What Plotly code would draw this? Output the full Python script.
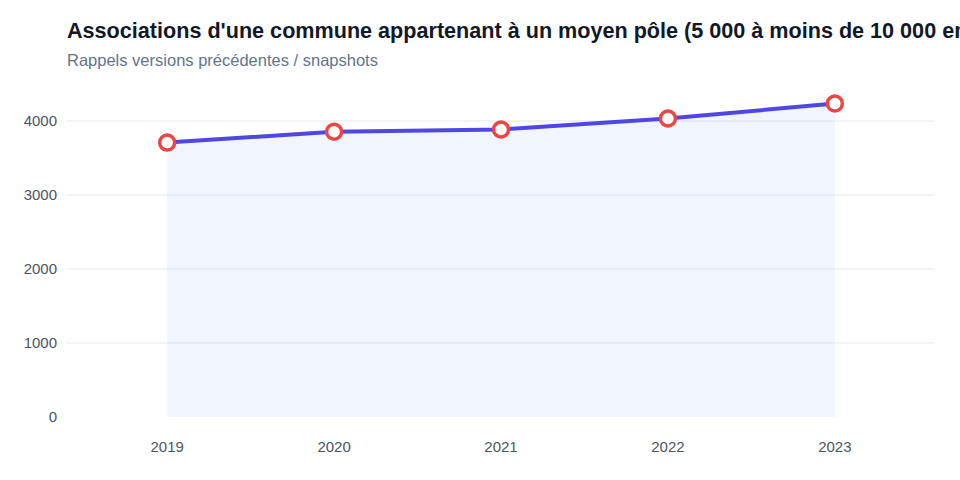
import plotly.graph_objects as go

years = ["2019", "2020", "2021", "2022", "2023"]
values = [3703, 3850, 3880, 4028, 4230]
title = "Associations d'une commune appartenant à un moyen pôle (5 000 à moins de 10 000 emplois)"
subtitle = "Rappels versions précédentes / snapshots"

fig = go.Figure()
fig.add_trace(go.Scatter(
    x=years, y=values, mode="lines+markers",
    line=dict(color="#4f46e5", width=4),
    fill="tozeroy", fillcolor="rgba(80,125,245,0.08)",
    marker=dict(size=15, color="white", line=dict(color="#ef4444", width=3.5)),
    hoverinfo="x+y", showlegend=False,
))

fig.update_layout(
    width=960, height=480,
    margin=dict(l=67, r=25, t=88, b=63),
    paper_bgcolor="white", plot_bgcolor="white",
    font=dict(family="Liberation Sans, Arial, sans-serif", color="#4b5563", size=15),
    xaxis=dict(type="category", range=[-0.6, 4.6], showgrid=False, showline=False,
               zeroline=False, ticks="", ticklabelstandoff=19,
               tickfont=dict(size=15, color="#4b5563")),
    yaxis=dict(range=[0, 4440], tickvals=[0, 1000, 2000, 3000, 4000], showgrid=True,
               gridcolor="#f1f3f8", gridwidth=2, zeroline=False, showline=False,
               ticks="", ticklabelstandoff=9, tickfont=dict(size=15, color="#4b5563")),
    annotations=[
        dict(text="<b>" + title + "</b>", xref="paper", yref="paper", x=0, y=1,
             xanchor="left", yanchor="bottom", yshift=43, xshift=-2, showarrow=False,
             font=dict(size=21.6, color="#111827")),
        dict(text=subtitle, xref="paper", yref="paper", x=0, y=1,
             xanchor="left", yanchor="bottom", yshift=17, xshift=-2, showarrow=False,
             font=dict(size=16.5, color="#64748b")),
    ],
)
fig.write_html("out.html")
